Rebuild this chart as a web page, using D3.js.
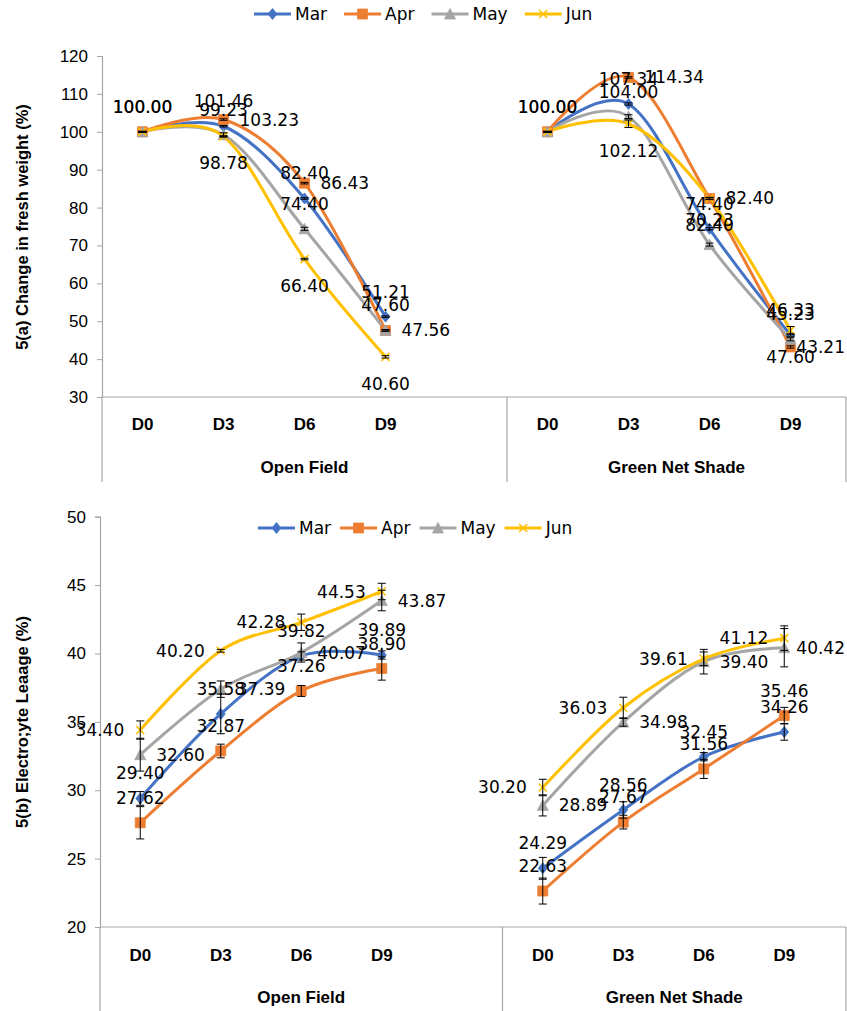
<!DOCTYPE html>
<html><head><meta charset="utf-8">
<script src="https://cdn.jsdelivr.net/npm/d3@7"></script>
<style>body{margin:0;background:#fff}</style>
</head><body><svg id="c" width="847" height="1011"></svg>
<script>
// ---------------- data ----------------
const days = ["D0", "D3", "D6", "D9"];
const groups = ["Open Field", "Green Net Shade"];
const seriesNames = ["Mar", "Apr", "May", "Jun"];
const seriesColors = ["#4472C4", "#ED7D31", "#A5A5A5", "#FFC000"];

// 5(a) Change in fresh weight (%)
const fwOpenMar = [100.00, 101.46, 82.40, 51.21];
const fwOpenApr = [100.00, 103.23, 86.43, 47.56];
const fwOpenMay = [100.00, 99.23, 74.40, 47.60];
const fwOpenJun = [100.00, 98.78, 66.40, 40.60];
const fwShadeMar = [100.00, 107.34, 74.40, 46.33];
const fwShadeApr = [100.00, 114.34, 82.40, 43.21];
const fwShadeMay = [100.00, 104.00, 70.23, 45.23];
const fwShadeJun = [100.00, 102.12, 82.40, 47.60];
const fwErrOpenMar = [0.1, 0.2, 0.2, 0.2];
const fwErrOpenApr = [0.1, 0.2, 0.2, 0.2];
const fwErrOpenMay = [0.1, 0.5, 0.4, 0.2];
const fwErrOpenJun = [0.1, 0.2, 0.2, 0.3];
const fwErrShadeMar = [0.1, 0.3, 0.3, 0.3];
const fwErrShadeApr = [0.1, 0.2, 0.2, 0.3];
const fwErrShadeMay = [0.1, 0.5, 0.4, 0.4];
const fwErrShadeJun = [0.1, 1.0, 0.3, 1.0];
const fwTicks = [30, 40, 50, 60, 70, 80, 90, 100, 110, 120];

// 5(b) Electrolyte leakage (%)
const elOpenMar = [29.40, 35.58, 39.82, 39.89];
const elOpenApr = [27.62, 32.87, 37.26, 38.90];
const elOpenMay = [32.60, 37.39, 40.07, 43.87];
const elOpenJun = [34.40, 40.20, 42.28, 44.53];
const elShadeMar = [24.29, 28.56, 32.45, 34.26];
const elShadeApr = [22.63, 27.67, 31.56, 35.46];
const elShadeMay = [28.89, 34.98, 39.40, 40.42];
const elShadeJun = [30.20, 36.03, 39.61, 41.12];
const elErrOpenMar = [0.5, 1.45, 0.3, 0.3];
const elErrOpenApr = [1.18, 0.5, 0.4, 0.85];
const elErrOpenMay = [1.2, 0.6, 0.7, 0.75];
const elErrOpenJun = [0.67, 0.1, 0.6, 0.6];
const elErrShadeMar = [0.8, 0.6, 0.3, 0.6];
const elErrShadeApr = [0.95, 0.5, 0.7, 0.6];
const elErrShadeMay = [0.77, 0.3, 0.9, 1.4];
const elErrShadeJun = [0.6, 0.77, 0.5, 0.9];
const elTicks = [20, 25, 30, 35, 40, 45, 50];

// ---------------- drawing ----------------
const svg = d3.select("#c");
const AX = "#A6A6A6";
const LABEL_FONT = "'DejaVu Sans', sans-serif";
const AXIS_FONT = "'Liberation Sans', Arial, sans-serif";

function markerPath(i) {
  if (i === 0) return "M0,-5.5L4.5,0L0,5.5L-4.5,0Z";
  if (i === 1) return "M-5,-5H5V5H-5Z";
  if (i === 2) return "M0,-5.5L5.5,5L-5.5,5Z";
  return "M-4,-4L4,4M-4,4L4,-4";
}
function drawMarker(g, i, x, y) {
  const p = g.append("path").attr("d", markerPath(i)).attr("transform", `translate(${x},${y})`);
  if (i === 3) p.attr("fill", "none").attr("stroke", seriesColors[i]).attr("stroke-width", 1.6);
  else p.attr("fill", seriesColors[i]).attr("stroke", seriesColors[i]).attr("stroke-width", 0.8);
}

function drawPanel(p) {
  const g = svg.append("g");
  const keys = groups.flatMap(gr => [...days.map(d => gr + "|" + d), gr + "|gap"]);
  const x = d3.scaleBand().domain(keys).range([p.xLeft, p.xLeft + p.band * keys.length]);
  const y = d3.scaleLinear().domain(p.yDomain).range(p.yRange);
  const cx = (gi, di) => x(groups[gi] + "|" + days[di]) + x.bandwidth() / 2;
  const base = y(p.yDomain[0]);

  // y axis
  const ya = g.append("g").attr("transform", `translate(${p.xLeft},0)`)
    .call(d3.axisLeft(y).tickValues(p.ticks).tickSize(5).tickPadding(9).tickFormat(d3.format("d")));
  ya.select(".domain").attr("stroke", AX).attr("stroke-width", 1.2);
  ya.selectAll(".tick line").attr("stroke", AX);
  ya.selectAll(".tick text").attr("font-family", AXIS_FONT).attr("font-size", 17).attr("fill", "#000");

  // category axis
  const right = 846;
  g.append("line").attr("x1", p.xLeft).attr("x2", right).attr("y1", base).attr("y2", base).attr("stroke", AX).attr("stroke-width", 1.2);
  const sep = x(groups[1] + "|" + days[0]);
  [p.xLeft, sep, right].forEach(xx => g.append("line").attr("x1", xx).attr("x2", xx)
    .attr("y1", base).attr("y2", p.catBottom).attr("stroke", AX).attr("stroke-width", 1.2));
  groups.forEach((gr, gi) => {
    days.forEach((d, di) => g.append("text").attr("x", cx(gi, di)).attr("y", p.dayY)
      .attr("text-anchor", "middle").attr("dominant-baseline", "central")
      .attr("font-family", AXIS_FONT).attr("font-weight", "bold").attr("font-size", 17).text(d));
    const gx0 = gi === 0 ? p.xLeft : sep, gx1 = gi === 0 ? sep : right;
    g.append("text").attr("x", (gx0 + gx1) / 2).attr("y", p.groupY)
      .attr("text-anchor", "middle").attr("dominant-baseline", "central")
      .attr("font-family", AXIS_FONT).attr("font-weight", "bold").attr("font-size", 17).text(gr);
  });

  // title
  g.append("text").attr("transform", `translate(${p.titleX},${p.titleY}) rotate(-90)`)
    .attr("text-anchor", "middle").attr("dominant-baseline", "central")
    .attr("font-family", AXIS_FONT).attr("font-weight", "bold").attr("font-size", 16.5).text(p.title);

  // lines
  const line = d3.line().x(d => d[0]).y(d => d[1]).curve(d3.curveCardinal.tension(0));
  p.values.forEach((grp, gi) => grp.forEach((vals, si) => {
    const pts = vals.map((v, di) => [cx(gi, di), y(v)]);
    g.append("path").attr("d", line(pts)).attr("fill", "none")
      .attr("stroke", seriesColors[si]).attr("stroke-width", 3).attr("stroke-linecap", "round");
  }));
  // markers
  p.values.forEach((grp, gi) => grp.forEach((vals, si) => {
    vals.forEach((v, di) => drawMarker(g, si, cx(gi, di), y(v)));
  }));
  // error bars
  p.values.forEach((grp, gi) => grp.forEach((vals, si) => {
    vals.forEach((v, di) => {
      const e = p.errors[gi][si][di];
      const xx = cx(gi, di), y1 = y(v - e), y2 = y(v + e);
      g.append("line").attr("x1", xx).attr("x2", xx).attr("y1", y1).attr("y2", y2).attr("stroke", "#000").attr("stroke-width", 1);
      [y1, y2].forEach(yy => g.append("line").attr("x1", xx - 4).attr("x2", xx + 4).attr("y1", yy).attr("y2", yy).attr("stroke", "#000").attr("stroke-width", 1));
    });
  }));
  // data labels
  p.values.forEach((grp, gi) => grp.forEach((vals, si) => {
    vals.forEach((v, di) => {
      if (p.hidden.some(h => h[0] === si && h[1] === di)) return;
      const pos = p.labelPos[si];
      const px = cx(gi, di), py = y(v);
      const t = g.append("text").attr("font-family", LABEL_FONT).attr("font-size", 17)
        .attr("dominant-baseline", "central").attr("fill", "#000").text(v.toFixed(2));
      const w = t.node().getComputedTextLength();
      let tx, ty;
      if (pos === "above") { tx = px - w / 2; ty = py - 25; }
      else if (pos === "below") { tx = px - w / 2; ty = py + 27; }
      else if (pos === "right") { tx = px + 16; ty = py; }
      else { tx = px - 16 - w; ty = py; }
      if (tx + w > 845) tx = 845 - w;
      t.attr("x", tx).attr("y", ty);
    });
  }));

  // legend
  let lx = p.legendX;
  seriesNames.forEach((s, si) => {
    g.append("line").attr("x1", lx).attr("x2", lx + 37).attr("y1", p.legendY).attr("y2", p.legendY)
      .attr("stroke", seriesColors[si]).attr("stroke-width", 3);
    drawMarker(g, si, lx + 18.5, p.legendY);
    const t = g.append("text").attr("x", lx + 41).attr("y", p.legendY).attr("dominant-baseline", "central")
      .attr("font-family", LABEL_FONT).attr("font-size", 17).text(s);
    lx += 41 + t.node().getComputedTextLength() + p.legendGap;
  });
}

drawPanel({
  values: [[fwOpenMar, fwOpenApr, fwOpenMay, fwOpenJun], [fwShadeMar, fwShadeApr, fwShadeMay, fwShadeJun]],
  errors: [[fwErrOpenMar, fwErrOpenApr, fwErrOpenMay, fwErrOpenJun], [fwErrShadeMar, fwErrShadeApr, fwErrShadeMay, fwErrShadeJun]],
  ticks: fwTicks, yDomain: [30, 120], yRange: [397, 56],
  xLeft: 102, band: 81, catBottom: 482, dayY: 424, groupY: 467,
  title: "5(a) Change in fresh weight  (%)", titleX: 22, titleY: 227,
  labelPos: ["above", "right", "above", "below"], hidden: [[1, 0], [3, 0]],
  legendX: 254, legendY: 14, legendGap: 17
});
drawPanel({
  values: [[elOpenMar, elOpenApr, elOpenMay, elOpenJun], [elShadeMar, elShadeApr, elShadeMay, elShadeJun]],
  errors: [[elErrOpenMar, elErrOpenApr, elErrOpenMay, elErrOpenJun], [elErrShadeMar, elErrShadeApr, elErrShadeMay, elErrShadeJun]],
  ticks: elTicks, yDomain: [20, 50], yRange: [927, 516.7],
  xLeft: 100, band: 80.5, catBottom: 1011, dayY: 955, groupY: 997,
  title: "5(b) Electro;yte Leaage (%)", titleX: 22, titleY: 722,
  labelPos: ["above", "above", "right", "left"], hidden: [],
  legendX: 258, legendY: 528, legendGap: 9
});
</script></body></html>
